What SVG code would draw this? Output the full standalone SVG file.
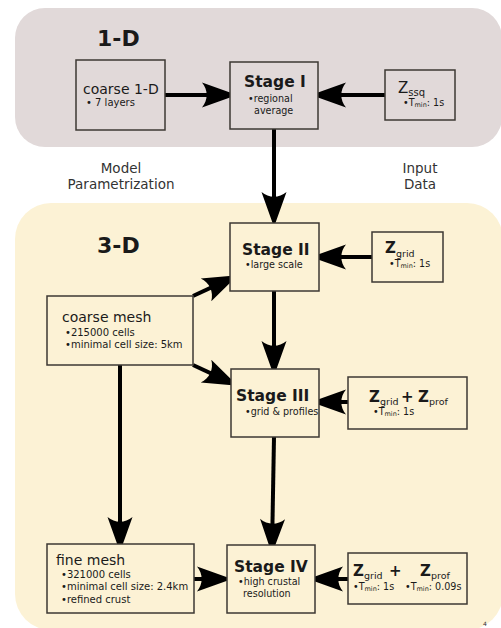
<svg xmlns="http://www.w3.org/2000/svg" width="501" height="628" viewBox="0 0 501 628">
<style>
text{font-family:"DejaVu Sans","Liberation Sans",sans-serif;fill:#1a1a1a}
.box{stroke:#3d3833;stroke-width:1.5}
.b1{fill:#e1d9d9}
.b3{fill:#fcf2d5}
.title{font-weight:bold;font-size:15.5px}
.big{font-weight:bold;font-size:22px}
.name{font-size:14px}
.sm{font-size:9.6px}
.sub{font-size:6.5px}
.zb{font-weight:bold;font-size:15px}
.zs{font-size:9.5px}
.lbl{font-size:13.5px;fill:#333;text-anchor:middle}
.conn{stroke:#000;stroke-width:4;fill:none;marker-end:url(#ah)}
</style>
<defs>
<marker id="ah" markerUnits="userSpaceOnUse" orient="auto" refX="0" refY="0" markerWidth="40" markerHeight="30" viewBox="-22 -12 32 24" overflow="visible">
<path d="M8,0 L-20,-10 C-15,-4 -15,4 -20,10 Z" fill="#000"/>
</marker>
</defs>
<rect width="501" height="628" fill="#fff"/>
<g id="panel-1d">
<rect x="15" y="8" width="487" height="139" rx="30" fill="#e1d9d9"/>
<text class="big" x="97" y="46">1-D</text>
</g>
<g id="panel-3d">
<rect x="15" y="203" width="488" height="427" rx="36" fill="#fcf2d5"/>
<text class="big" x="97" y="253">3-D</text>
</g>
<g id="label-model">
<text class="lbl" x="121" y="173">Model</text>
<text class="lbl" x="121" y="189">Parametrization</text>
</g>
<g id="label-input">
<text class="lbl" x="420" y="173">Input</text>
<text class="lbl" x="420" y="189">Data</text>
</g>
<g id="connectors">
<line class="conn" x1="165" y1="95" x2="227" y2="95"/>
<line class="conn" x1="385" y1="95" x2="321" y2="95"/>
<line class="conn" x1="274" y1="129" x2="274" y2="217"/>
<line class="conn" x1="372" y1="257" x2="321" y2="257"/>
<line class="conn" x1="193" y1="296" x2="228.7" y2="279.4"/>
<line class="conn" x1="193" y1="365" x2="228.7" y2="381.6"/>
<line class="conn" x1="274" y1="291" x2="274" y2="366"/>
<line class="conn" x1="348" y1="402" x2="321" y2="402"/>
<line class="conn" x1="120" y1="365" x2="120" y2="542"/>
<line class="conn" x1="274" y1="437" x2="272.1" y2="544"/>
<line class="conn" x1="194" y1="579" x2="222" y2="579"/>
<line class="conn" x1="348" y1="579" x2="318" y2="579"/>
</g>
<g id="coarse-1d">
<rect class="box b1" x="76" y="60" width="89" height="70"/>
<text class="name" x="83" y="94">coarse 1-D</text>
<text class="sm" x="86" y="106" style="font-size:10px">• 7 layers</text>
</g>
<g id="stage-1">
<rect class="box b1" x="230" y="62" width="88" height="67"/>
<text class="title" x="244" y="87">Stage I</text>
<text class="sm" x="248" y="102">•regional</text>
<text class="sm" x="254" y="114">average</text>
</g>
<g id="z-ssq">
<rect class="box b1" x="385" y="70" width="70" height="50"/>
<text x="398" y="93" style="font-size:15px">Z<tspan style="font-size:10px" dy="3">ssq</tspan></text>
<text class="sm" x="403" y="106">•T<tspan class="sub" dy="1">min</tspan><tspan dy="-1">: 1s</tspan></text>
</g>
<g id="stage-2">
<rect class="box b3" x="230" y="223" width="89" height="68"/>
<text class="title" x="242" y="255">Stage II</text>
<text class="sm" x="245" y="268">•large scale</text>
</g>
<g id="z-grid">
<rect class="box b3" x="372" y="232" width="71" height="50"/>
<text class="zb" x="385" y="253">Z</text>
<text class="zs" x="396" y="257">grid</text>
<text class="sm" x="389" y="267">•T<tspan class="sub" dy="1">min</tspan><tspan dy="-1">: 1s</tspan></text>
</g>
<g id="coarse-mesh">
<rect class="box b3" x="47" y="296" width="146" height="69"/>
<text class="name" x="62" y="322">coarse mesh</text>
<text class="sm" x="65" y="336" style="font-size:10px">•215000 cells</text>
<text class="sm" x="65" y="348" style="font-size:10px">•minimal cell size: 5km</text>
</g>
<g id="stage-3">
<rect class="box b3" x="231" y="369" width="88" height="68"/>
<text class="title" x="236" y="401">Stage III</text>
<text class="sm" x="245" y="415">•grid &amp; profiles</text>
</g>
<g id="z-grid-prof">
<rect class="box b3" x="348" y="377" width="119" height="52"/>
<text class="zb" x="369" y="402">Z</text>
<text class="zs" x="380" y="405">grid</text>
<text class="zb" x="401" y="402">+</text>
<text class="zb" x="418" y="402">Z</text>
<text class="zs" x="429" y="405">prof</text>
<text class="sm" x="373" y="415">•T<tspan class="sub" dy="1">min</tspan><tspan dy="-1">: 1s</tspan></text>
</g>
<g id="fine-mesh">
<rect class="box b3" x="47" y="544" width="147" height="69"/>
<text class="name" x="56" y="565">fine mesh</text>
<text class="sm" x="61" y="578" style="font-size:10px">•321000 cells</text>
<text class="sm" x="61" y="590" style="font-size:10px">•minimal cell size: 2.4km</text>
<text class="sm" x="61" y="603" style="font-size:10px">•refined crust</text>
</g>
<g id="stage-4">
<rect class="box b3" x="227" y="545" width="88" height="68"/>
<text class="title" x="234" y="572">Stage IV</text>
<text class="sm" x="238" y="585">•high crustal</text>
<text class="sm" x="243" y="597">resolution</text>
</g>
<g id="z-grid-prof-2">
<rect class="box b3" x="348" y="553" width="119" height="51"/>
<text class="zb" x="353" y="576">Z</text>
<text class="zs" x="364" y="579">grid</text>
<text class="zb" x="389" y="576">+</text>
<text class="zb" x="420" y="576">Z</text>
<text class="zs" x="431" y="579">prof</text>
<text class="sm" x="353" y="590">•T<tspan class="sub" dy="1">min</tspan><tspan dy="-1">: 1s</tspan></text>
<text class="sm" x="405" y="590">•T<tspan class="sub" dy="1">min</tspan><tspan dy="-1">: 0.09s</tspan></text>
</g>
<text x="483" y="626" style="font-size:6px;fill:#333">4</text>
</svg>
